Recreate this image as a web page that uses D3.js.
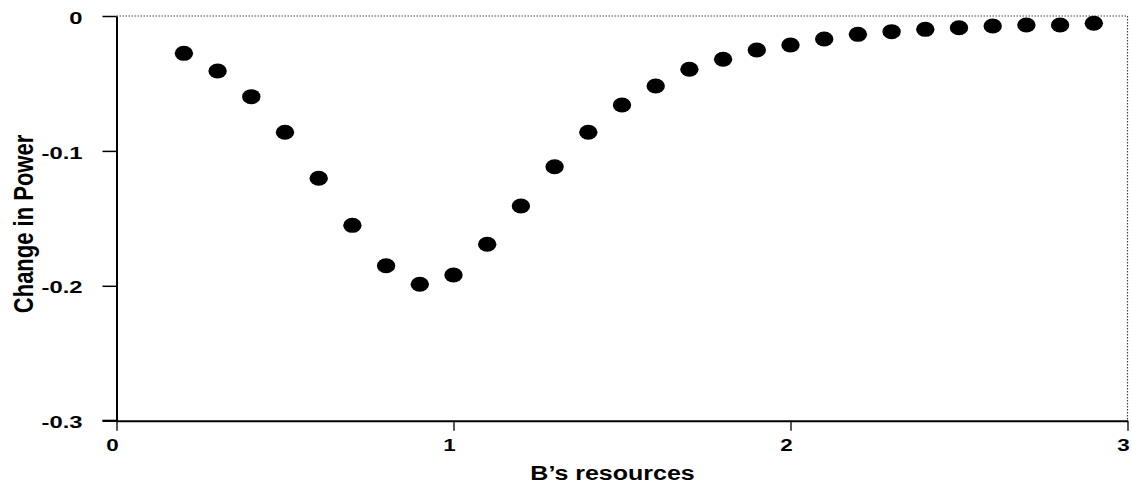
<!DOCTYPE html>
<html><head><meta charset="utf-8">
<script src="https://cdn.jsdelivr.net/npm/d3@7/dist/d3.min.js"></script>
<style>body{margin:0;background:#fff}svg{display:block}</style>
</head><body><svg id="c" width="1132" height="486"></svg>
<script>
const resources = [0.2,0.3,0.4,0.5,0.6,0.7,0.8,0.9,1.0,1.1,1.2,1.3,1.4,1.5,1.6,1.7,1.8,1.9,2.0,2.1,2.2,2.3,2.4,2.5,2.6,2.7,2.8,2.9];
const powerChange = [-0.0277,-0.0408,-0.0598,-0.0862,-0.1203,-0.1552,-0.1851,-0.1989,-0.1920,-0.1692,-0.1408,-0.1117,-0.0862,-0.0660,-0.0519,-0.0395,-0.0321,-0.0252,-0.0215,-0.0171,-0.0136,-0.0116,-0.0099,-0.0087,-0.0074,-0.0067,-0.0067,-0.0054];
const xTicks = [0,1,2,3];
const xTickLabels = ["0","1","2","3"];
const yTicks = [0,-0.1,-0.2,-0.3];
const yTickLabels = ["0","-0.1","-0.2","-0.3"];
const xTitle = "B\u2019s resources";
const yTitle = "Change in Power";

const svg = d3.select("#c");
const L = 116.5, R = 1127.5, T = 16, B = 420.7;
const x = d3.scaleLinear().domain([0,3]).range([L,R]);
const y = d3.scaleLinear().domain([-0.3,0]).range([B,T]);
const font = "'Liberation Sans', Arial, Helvetica, sans-serif";
const SX = 1.4;

// dotted frame top and right
svg.append("line").attr("x1",L).attr("x2",R).attr("y1",T).attr("y2",T)
  .attr("stroke","#444").attr("stroke-width",1.2).attr("stroke-dasharray","1.5,1.5");
svg.append("line").attr("x1",R).attr("x2",R).attr("y1",T).attr("y2",B)
  .attr("stroke","#444").attr("stroke-width",1.2).attr("stroke-dasharray","1.5,1.5");

// y axis
const yAxis = d3.axisLeft(y).tickValues(yTicks).tickSize(14).tickSizeOuter(0)
  .tickFormat((d,i)=>yTickLabels[i]);
const gy = svg.append("g").attr("transform",`translate(${L},0)`).call(yAxis);
gy.select(".domain").attr("stroke","#000").attr("stroke-width",2);
gy.selectAll(".tick line").attr("stroke","#000").attr("stroke-width",1.5);
gy.selectAll(".tick text").attr("font-family",font).attr("font-weight","bold")
  .attr("font-size",17).attr("fill","#000")
  .attr("x",-34/SX).attr("dy","0.42em")
  .attr("transform",`scale(${SX},1)`);

// x axis
const xAxis = d3.axisBottom(x).tickValues(xTicks).tickSize(10).tickSizeOuter(0)
  .tickFormat((d,i)=>xTickLabels[i]);
const gx = svg.append("g").attr("transform",`translate(0,${B})`).call(xAxis);
gx.select(".domain").attr("stroke","#000").attr("stroke-width",2);
gx.selectAll(".tick line").attr("stroke","#000").attr("stroke-width",1.3);
gx.selectAll(".tick text").attr("font-family",font).attr("font-weight","bold")
  .attr("font-size",16).attr("fill","#000")
  .attr("y",30).attr("dy",0)
  .attr("transform",`scale(${SX},1)`).attr("x",-4.5/SX);

// extend bottom axis left to meet -0.3 tick
svg.append("line").attr("x1",L-14).attr("x2",L).attr("y1",B).attr("y2",B)
  .attr("stroke","#000").attr("stroke-width",2);

// dots
svg.append("g").selectAll("ellipse").data(resources).join("ellipse")
  .attr("cx",(d)=>x(d)).attr("cy",(d,i)=>y(powerChange[i]))
  .attr("rx",9.2).attr("ry",7.5).attr("fill","#000");

// titles
svg.append("text").attr("font-family",font).attr("font-weight","bold").attr("font-size",20)
  .attr("text-anchor","middle")
  .attr("transform",`translate(612.5,480) scale(1.25,1)`).text(xTitle);
svg.append("text").attr("font-family",font).attr("font-weight","bold").attr("font-size",22)
  .attr("text-anchor","middle")
  .attr("transform",`translate(33,224) rotate(-90) scale(1,1.25)`).text(yTitle);
</script>
</body></html>
